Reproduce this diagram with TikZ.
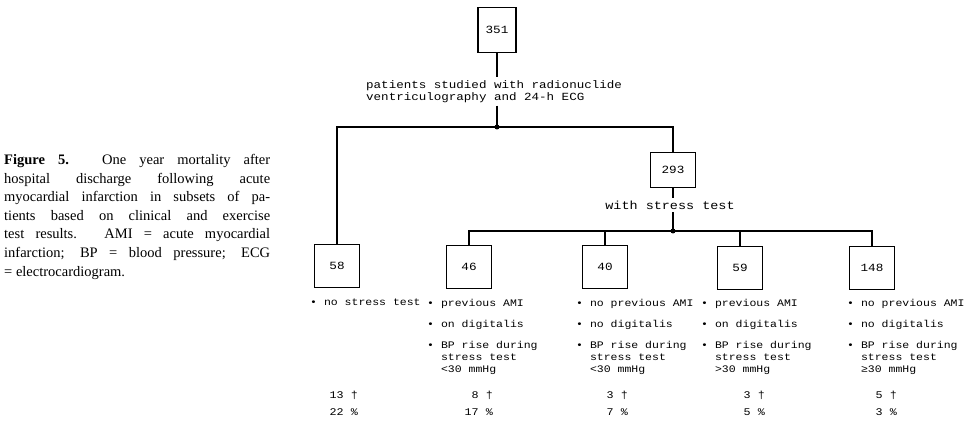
\documentclass[tikz,border=0pt]{standalone}
\usepackage{fontspec}
\setmainfont{Liberation Serif}
\newfontfamily\plotfont[FakeStretch=1.15]{Liberation Mono}
\usetikzlibrary{positioning}

\newcommand{\ind}{\phantom{•~}}

\begin{document}
\begin{tikzpicture}[
    x=1pt, y=-1pt,
    wire/.style={line width=1.3pt},
    box/.style={draw, line width=1.3pt, minimum width=45pt, minimum height=43pt,
        inner sep=0pt, font=\plotfont\fontsize{11}{12}\selectfont},
    tag/.style={inner sep=3pt, align=left, font=\plotfont\fontsize{10.9}{12}\selectfont},
    items/.style={tag, inner sep=0pt, anchor=north west,
        font=\plotfont\fontsize{10}{12}\selectfont},
    tally/.style={tag, inner sep=0pt, align=right, anchor=north east,
        font=\plotfont\fontsize{10.2}{17}\selectfont}
]
\useasboundingbox (0,0) rectangle (980,427);

% Caption on the left
\node[anchor=north west, inner sep=0pt, align=left,
      font=\fontsize{14.5}{18.6}\selectfont] (cap) at (4,154)
    {\makebox[266pt][s]{\textbf{Figure 5.} One year mortality after}\\
     \makebox[266pt][s]{hospital discharge following acute}\\
     \makebox[266pt][s]{myocardial infarction in subsets of pa-}\\
     \makebox[266pt][s]{tients based on clinical and exercise}\\
     \makebox[266pt][s]{test results. AMI = acute myocardial}\\
     \makebox[266pt][s]{infarction; BP = blood pressure; ECG}\\
     = electrocardiogram.};

% All patients
\node[box, minimum width=38pt, minimum height=45pt] (n351) at (497,30) {351};
\node[tag, anchor=north west] (studied) at (363,77)
    {patients studied with radionuclide\\ventriculography and 24-h ECG};
\coordinate (j1) at (497,127);
\draw[wire] (n351.south) -- (studied.north -| n351.south);
\draw[wire] (studied.south -| j1) -- (j1);

% First split
\node[box] (n58) at (337,266) {58};
\node[box, minimum height=35pt] (n293) at (673,170) {293};
\draw[wire] (n58.north) |- (j1) -| (n293.north);
\fill (j1) circle (2.5pt);

% With stress test
\node[tag, font=\plotfont\fontsize{11.7}{12}\selectfont] (stress) at (670,205) {with stress test};
\coordinate (j2) at (673,231);
\draw[wire] (n293.south) -- (n293.south |- stress.north);
\draw[wire] (stress.south -| j2) -- (j2);

% Second split
\node[box] (n46) at (469,267) {46};
\node[box] (n40) at (605,267) {40};
\node[box] (n59) at (740,268) {59};
\node[box] (n148) at (872,268) {148};
\draw[wire] (n46.north) |- (j2) -| (n148.north);
\draw[wire] (n40.north) -- (n40.north |- j2);
\draw[wire] (n59.north) -- (n59.north |- j2);
\fill (j2) circle (2.5pt);

% Subset descriptions
\node[items] (d58) at (310,299) {• no stress test};
\node[items] (d46) at (427,299)
    {• previous AMI\\[9pt]• on digitalis\\[9pt]• BP rise during\\\ind stress test\\\ind <30 mmHg};
\node[items] (d40) at (576,299)
    {• no previous AMI\\[9pt]• no digitalis\\[9pt]• BP rise during\\\ind stress test\\\ind <30 mmHg};
\node[items] (d59) at (701,299)
    {• previous AMI\\[9pt]• on digitalis\\[9pt]• BP rise during\\\ind stress test\\\ind >30 mmHg};
\node[items] (d148) at (847,299)
    {• no previous AMI\\[9pt]• no digitalis\\[9pt]• BP rise during\\\ind stress test\\\ind ≥30 mmHg};

% One year mortality
\node[tally] (m58) at (358,391) {13 †\\22 \%};
\node[tally] (m46) at (493,391) {8 †\\17 \%};
\node[tally] (m40) at (628,391) {3 †\\7 \%};
\node[tally] (m59) at (765,391) {3 †\\5 \%};
\node[tally] (m148) at (897,391) {5 †\\3 \%};

\end{tikzpicture}
\end{document}
